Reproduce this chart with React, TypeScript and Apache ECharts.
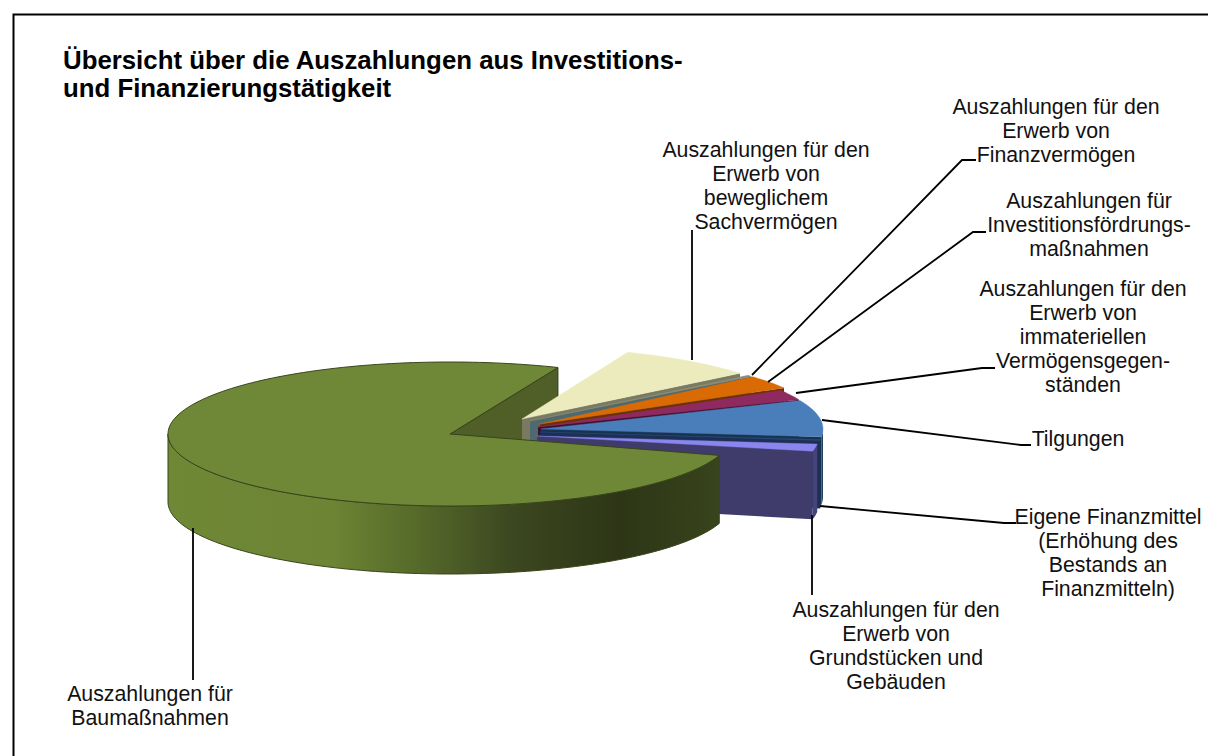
import React, { useEffect, useRef } from "react";
import * as echarts from "echarts";

const categories = [
  "Auszahlungen für den Erwerb von beweglichem Sachvermögen",
  "Auszahlungen für den Erwerb von Finanzvermögen",
  "Auszahlungen für Investitionsfördrungsmaßnahmen",
  "Auszahlungen für den Erwerb von immateriellen Vermögensgegenständen",
  "Tilgungen",
  "Eigene Finanzmittel (Erhöhung des Bestands an Finanzmitteln)",
  "Auszahlungen für den Erwerb von Grundstücken und Gebäuden",
  "Auszahlungen für Baumaßnahmen",
];
const shareValues = [7.95, 0.3, 3.0, 2.3, 8.2, 0.2, 1.6, 76.45];
const titleLines = "Übersicht über die Auszahlungen aus Investitions-\nund Finanzierungstätigkeit";

const topColors = ["#ecebbd", "#8c8c74", "#d96a04", "#8f2a60", "#4a7ebb", "#2c4a78", "#8b85ee", "#6f8838"];
const faceColors = ["#7a7a62", "#4f6a6e", "#6b3000", "#3f0f2e", "#16334f", "#1c2f55", "#3f3b6b", "#505e28"];
const wallColors = ["#8a8a60", "#5a5a4a", "#8a4400", "#5a1a3e", "#1d4063", "#1c2f55", "#45437a", "#5a6f2c"];

// Exploded pie layout: top-face centre of each slice and small angular correction for perspective.
const sliceCenters = [
  [522, 419], [530, 421], [540, 424], [538, 427], [541, 429], [540, 432], [537, 436], [450, 434],
];
const angleShift = [0, 0, 2.6, 3.1, 4.1, 4.3, 4.6, -0.5];
const START_ANGLE = 68;
const RX = 282;
const RY = 72;
const DEPTH = 68;
const MAIN_INDEX = sliceCenters.length - 1;

const labelBoxes = [
  { text: "Auszahlungen für den\nErwerb von\nbeweglichem\nSachvermögen", x: 766, y: 138 },
  { text: "Auszahlungen für den\nErwerb von\nFinanzvermögen", x: 1056, y: 95 },
  { text: "Auszahlungen für\nInvestitionsfördrungs-\nmaßnahmen", x: 1089, y: 189 },
  { text: "Auszahlungen für den\nErwerb von\nimmateriellen\nVermögensgegen-\nständen", x: 1083, y: 277 },
  { text: "Tilgungen", x: 1078, y: 427 },
  { text: "Eigene Finanzmittel\n(Erhöhung des\nBestands an\nFinanzmitteln)", x: 1108, y: 505 },
  { text: "Auszahlungen für den\nErwerb von\nGrundstücken und\nGebäuden", x: 896, y: 598 },
  { text: "Auszahlungen für\nBaumaßnahmen", x: 150, y: 682 },
];
const leaders = [
  [[692, 360], [692, 230]],
  [[752, 375], [962, 160], [976, 160]],
  [[768, 382], [973, 232], [986, 232]],
  [[796, 393], [982, 368], [995, 368]],
  [[822, 420], [1021, 445], [1031, 445]],
  [[820, 506], [1004, 523], [1016, 523]],
  [[812, 515], [812, 595]],
  [[193, 528], [193, 680]],
];

const total = shareValues.reduce((a, b) => a + b, 0);
const sweeps = shareValues.map((v) => (v / total) * 360);
const starts: number[] = [];
sweeps.reduce((acc, s, i) => {
  starts[i] = acc + angleShift[i];
  return acc - s;
}, START_ANGLE);

const rad = (d: number) => (d * Math.PI) / 180;

function arcPoints(cx: number, cy: number, from: number, to: number, dy = 0) {
  const n = Math.max(2, Math.ceil(Math.abs(from - to) / 1.5));
  const pts: number[][] = [];
  for (let i = 0; i <= n; i++) {
    const t = rad(from + ((to - from) * i) / n);
    pts.push([cx + RX * Math.cos(t), cy - RY * Math.sin(t) + dy]);
  }
  return pts;
}

// Cut face at the clockwise end of a slice (the side facing the viewer).
function cutFace(i: number, to: number) {
  const [cx, cy] = sliceCenters[i];
  const cx2 = cx + RX * Math.cos(rad(to));
  const cy2 = cy - RY * Math.sin(rad(to));
  return {
    type: "polygon",
    shape: { points: [[cx, cy], [cx2, cy2], [cx2, cy2 + DEPTH], [cx, cy + DEPTH]] },
    style: { fill: faceColors[i], stroke: i === MAIN_INDEX ? "#2f3a14" : null, lineWidth: 1 },
  };
}

// The main slice's cut face sits behind every other slice, so it gets its own back layer.
function renderBack(params: any, api: any) {
  const i = params.dataIndex;
  if (i !== MAIN_INDEX) return null;
  return cutFace(i, starts[i] - (api.value(0) / total) * 360);
}

function renderSlice(params: any, api: any) {
  const i = params.dataIndex;
  const sweep = (api.value(0) / total) * 360;
  const [cx, cy] = sliceCenters[i];
  const from = starts[i];
  const to = from - sweep;
  const children: any[] = [];
  const isMain = i === MAIN_INDEX;
  const edge = isMain ? "#39451a" : topColors[i];

  if (!isMain) children.push(cutFace(i, to));

  // Outer wall, only where it faces the viewer.
  const wallFrom = Math.min(from, 0);
  const wallTo = Math.max(to, -180);
  if (wallFrom > wallTo) {
    const upper = arcPoints(cx, cy, wallFrom, wallTo);
    const lower = arcPoints(cx, cy, wallTo, wallFrom, DEPTH);
    children.push({
      type: "polygon",
      shape: { points: [...upper, ...lower] },
      style: {
        fill: isMain
          ? new echarts.graphic.LinearGradient(0, 0, 1, 0, [
              { offset: 0, color: "#6f8836" },
              { offset: 0.3, color: "#6c8434" },
              { offset: 0.45, color: "#566a2a" },
              { offset: 0.62, color: "#3c4820" },
              { offset: 0.82, color: "#2d3516" },
              { offset: 1, color: "#38441c" },
            ])
          : wallColors[i],
        stroke: isMain ? "#39451a" : null,
        lineWidth: 1,
      },
    });
  }

  // Top face.
  children.push({
    type: "polygon",
    shape: { points: [[cx, cy], ...arcPoints(cx, cy, from, to)] },
    style: { fill: topColors[i], stroke: edge, lineWidth: isMain ? 1 : 0.4 },
  });
  return { type: "group", children };
}

export default function App() {
  const ref = useRef<HTMLDivElement>(null);
  useEffect(() => {
    document.body.style.margin = "0";
    const chart = echarts.init(ref.current!, undefined, { renderer: "svg" });
    const pieData = shareValues.map((v, i) => ({ name: categories[i], value: [v] }));
    chart.setOption({
      animation: false,
      backgroundColor: "#ffffff",
      title: {
        text: titleLines,
        left: 63,
        top: 46,
        padding: 0,
        textStyle: {
          fontFamily: "Liberation Sans",
          fontSize: 25.8,
          fontWeight: "bold",
          color: "#000",
          lineHeight: 28,
        },
      },
      series: [
        {
          type: "custom",
          name: "Rückseite",
          coordinateSystem: "none",
          silent: true,
          z: 1,
          renderItem: renderBack,
          data: pieData,
        },
        {
          type: "custom",
          name: "Auszahlungen",
          coordinateSystem: "none",
          silent: true,
          z: 2,
          renderItem: renderSlice,
          data: pieData,
        },
      ],
      graphic: {
        elements: [
          {
            type: "rect",
            silent: true,
            z: 0,
            shape: { x: 13.5, y: 14.5, width: 1300, height: 900 },
            style: { fill: "transparent", stroke: "#000", lineWidth: 2 },
          },
          ...leaders.map((points) => ({
            type: "polyline",
            silent: true,
            z: 5,
            shape: { points },
            style: { fill: "none", stroke: "#000", lineWidth: 1.8 },
          })),
          ...labelBoxes.map((b) => ({
            type: "text",
            silent: true,
            z: 6,
            x: b.x,
            y: b.y,
            style: {
              text: b.text,
              fontFamily: "Liberation Sans",
              fontSize: 21.3,
              lineHeight: 24,
              fill: "#111",
              align: "center",
              verticalAlign: "top",
            },
          })),
        ],
      },
    });
    return () => chart.dispose();
  }, []);
  return <div ref={ref} style={{ width: 1208, height: 756 }} />;
}
